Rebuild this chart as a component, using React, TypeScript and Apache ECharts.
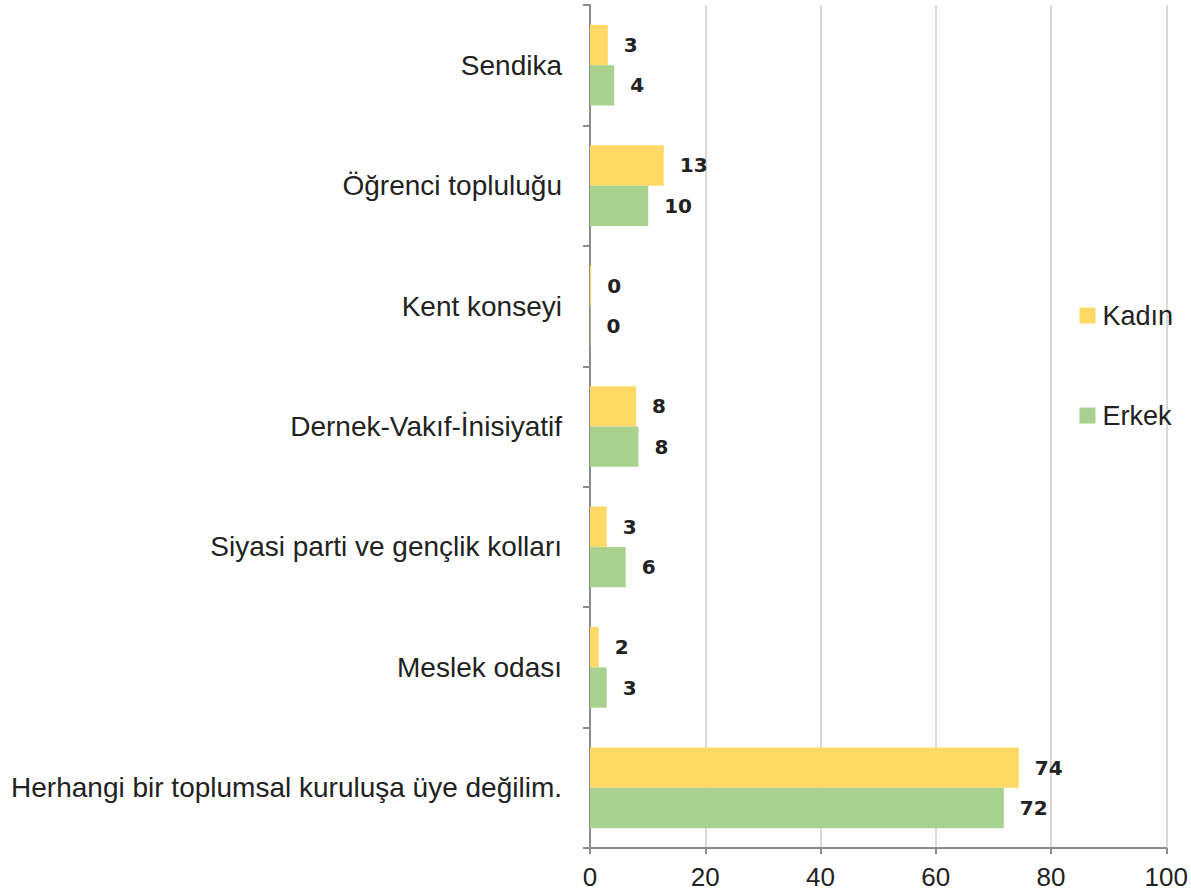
import React, { useEffect, useRef } from "react";
import * as echarts from "echarts";

const categories = [
  "Sendika",
  "Öğrenci topluluğu",
  "Kent konseyi",
  "Dernek-Vakıf-İnisiyatif",
  "Siyasi parti ve gençlik kolları",
  "Meslek odası",
  "Herhangi bir toplumsal kuruluşa üye değilim.",
];
const kadin = [3.1, 12.8, 0.2, 8.0, 2.9, 1.5, 74.4];
const erkek = [4.2, 10.1, 0.1, 8.4, 6.2, 2.9, 71.8];
const seriesNames = ["Kadın", "Erkek"];
const xTicks = { min: 0, max: 100, interval: 20 };

export default function App() {
  const ref = useRef<HTMLDivElement>(null);
  useEffect(() => {
    document.body.style.margin = "0";
    const chart = echarts.init(ref.current!, null, { renderer: "svg" });
    const labelStyle = {
      show: true,
      position: "right" as const,
      distance: 16,
      fontFamily: "DejaVu Sans",
      fontWeight: "bold" as const,
      fontSize: 20,
      color: "#222",
      formatter: (p: any) => String(Math.round(p.value)),
    };
    chart.setOption({
      animation: false,
      textStyle: { fontFamily: "Liberation Sans" },
      grid: { left: 590, right: 24, top: 5, bottom: 46, containLabel: false },
      legend: {
        orient: "vertical",
        right: 13,
        top: 297,
        itemWidth: 16,
        itemHeight: 16,
        itemGap: 73,
        icon: "rect",
        textStyle: { fontSize: 27, color: "#222", fontFamily: "Liberation Sans", padding: [0, 0, 0, 2] },
        data: seriesNames,
      },
      xAxis: {
        type: "value",
        min: xTicks.min,
        max: xTicks.max,
        interval: xTicks.interval,
        axisLine: { show: true, lineStyle: { color: "#8c8c8c", width: 2 } },
        axisTick: { show: true, length: 6, lineStyle: { color: "#8c8c8c", width: 2 } },
        axisLabel: { fontSize: 26, color: "#222", margin: 16 },
        splitLine: { show: true, lineStyle: { color: "#d9d9d9", width: 2 } },
      },
      yAxis: {
        type: "category",
        data: categories,
        inverse: true,
        axisLine: { show: true, lineStyle: { color: "#8c8c8c", width: 2 } },
        axisTick: { show: true, length: 7, lineStyle: { color: "#8c8c8c", width: 2 } },
        axisLabel: { fontSize: 28, color: "#222", margin: 28 },
      },
      series: [
        {
          name: seriesNames[0],
          type: "bar",
          data: kadin,
          barGap: "0%",
          barCategoryGap: "33%",
          itemStyle: { color: "#ffd966" },
          label: labelStyle,
        },
        {
          name: seriesNames[1],
          type: "bar",
          data: erkek,
          barGap: "0%",
          barCategoryGap: "33%",
          itemStyle: { color: "#a9d18e" },
          label: labelStyle,
        },
      ],
    });
    return () => chart.dispose();
  }, []);
  return <div ref={ref} style={{ width: 1191, height: 894 }} />;
}
